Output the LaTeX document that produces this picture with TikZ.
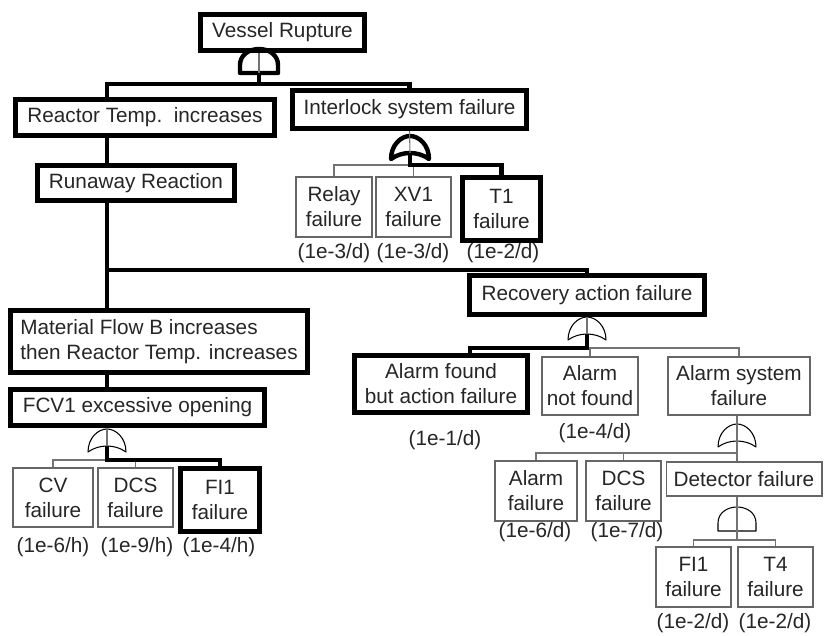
\documentclass[tikz,border=0pt]{standalone}
\usepackage{fontspec}
\setmainfont{Liberation Sans}
\usepackage{xcolor}
\newcommand{\ftafont}{\fontsize{11.8}{14.2}\selectfont}
\tikzset{
  evbox/.style={draw=black, line width=2.8pt, fill=white, inner sep=0pt, align=center, text=black!85, font=\ftafont},
  basebox/.style={draw=black!60, line width=0.6pt, fill=white, inner sep=0pt, align=center, text=black!85, font=\ftafont},
  rate/.style={inner sep=0pt, text=black!85, font=\ftafont},
  crit/.style={line width=2.5pt, black},
  thinline/.style={line width=0.6pt, black!55},
  andgate/.pic={
    \draw[line join=round] (-19,24) -- (-19,16) .. controls (-19,6) and (-10,0) .. (0,0)
      .. controls (10,0) and (19,6) .. (19,16) -- (19,24) -- cycle;
    \coordinate (-in) at (0,0);
    \coordinate (-out) at (0,24);
  },
  orgate/.pic={
    \draw[line join=round] (-19,23) .. controls (-19,9) and (-9,0) .. (0,0)
      .. controls (9,0) and (19,9) .. (19,23)
      .. controls (8,15) and (-8,15) .. (-19,23) -- cycle;
    \coordinate (-in) at (0,0);
    \coordinate (-out) at (0,17);
  }
}
\begin{document}
\begin{tikzpicture}[x=0.02cm,y=-0.02cm]
\useasboundingbox (0,0) rectangle (824,635);
\coordinate (spine) at (107,0);

% events on the left branch
\node[evbox, minimum width=3.28cm, minimum height=0.72cm] (top) at (282.5,32.5) {Vessel Rupture};
\node[evbox, minimum width=5.18cm, minimum height=0.72cm] (rti) at (145,117.5) {Reactor Temp.\ \ increases};
\node[evbox, minimum width=3.94cm, minimum height=0.70cm] (rr) at (136,183) {Runaway Reaction};
\node[evbox, minimum width=5.94cm, minimum height=1.24cm, align=left] (mfb) at (159,341.5) {Material Flow B increases\\then Reactor Temp. increases};
\node[evbox, minimum width=5.08cm, minimum height=0.72cm] (fcv) at (137.5,407.5) {FCV1 excessive opening};
\node[basebox, minimum width=1.60cm, minimum height=1.18cm] (cv) at (53,497.5) {CV\\failure};
\node[basebox, minimum width=1.50cm, minimum height=1.18cm] (dcsa) at (135.5,497.5) {DCS\\failure};
\node[evbox, minimum width=1.58cm, minimum height=1.26cm] (fia) at (220,500) {FI1\\failure};

% interlock
\node[evbox, minimum width=4.68cm, minimum height=0.76cm] (isf) at (409.5,109.5) {Interlock system failure};
\node[basebox, minimum width=1.52cm, minimum height=1.20cm] (relay) at (334,207) {Relay\\failure};
\node[basebox, minimum width=1.50cm, minimum height=1.20cm] (xv) at (413.5,207) {XV1\\failure};
\node[evbox, minimum width=1.56cm, minimum height=1.26cm] (tone) at (501.5,209) {T1\\failure};

% recovery
\node[evbox, minimum width=4.70cm, minimum height=0.78cm] (raf) at (587,295) {Recovery action failure};
\node[evbox, minimum width=3.46cm, minimum height=1.14cm] (afb) at (441,384) {Alarm found\\but action failure};
\node[basebox, minimum width=1.92cm, minimum height=1.16cm] (anf) at (590,386) {Alarm\\not found};
\node[basebox, minimum width=2.84cm, minimum height=1.16cm] (asf) at (739,386) {Alarm system\\failure};
\node[basebox, minimum width=1.64cm, minimum height=1.20cm] (alf) at (536,491) {Alarm\\failure};
\node[basebox, minimum width=1.50cm, minimum height=1.20cm] (dcsb) at (623.5,491) {DCS\\failure};
\node[basebox, minimum width=3.12cm, minimum height=0.68cm] (det) at (744,479) {Detector failure};
\node[basebox, minimum width=1.50cm, minimum height=1.20cm] (fib) at (693.5,577) {FI1\\failure};
\node[basebox, minimum width=1.50cm, minimum height=1.20cm] (tfour) at (775.5,577) {T4\\failure};

% failure rates
\node[rate] (rrelay) at (334,253) {(1e-3/d)};
\node[rate] (rxv) at (413,253) {(1e-3/d)};
\node[rate] (rtone) at (503,253) {(1e-2/d)};
\node[rate] (rcv) at (53,547) {(1e-6/h)};
\node[rate] (rdcsa) at (137,547) {(1e-9/h)};
\node[rate] (rfia) at (219,547) {(1e-4/h)};
\node[rate] (rafb) at (445,440) {(1e-1/d)};
\node[rate] (ranf) at (595,433) {(1e-4/d)};
\node[rate] (ralf) at (535,532) {(1e-6/d)};
\node[rate] (rdcsb) at (627,532) {(1e-7/d)};
\node[rate] (rfib) at (693,623) {(1e-2/d)};
\node[rate] (rtfour) at (775,623) {(1e-2/d)};

% gates
\pic[crit] (ga) at (259,49) {andgate};
\pic[crit] (gb) at (410,136) {orgate};
\pic[thinline, black] (gc) at (107,429) {orgate};
\pic[thinline, black] (gd) at (587,317) {orgate};
\pic[thinline, black] (ge) at (737,424) {orgate};
\pic[thinline, black] (gf) at (737,507) {andgate};

% top event
\draw[thinline] (ga-in |- top.south) -- (ga-out);
\coordinate (ba) at (259,84);
\draw[crit] (ga-out) -- (ba);
\draw[crit] (ba) -| (spine |- rti.north);
\draw[crit] (ba) -| (isf.north);

% left spine
\draw[crit] (spine |- rti.south) -- (spine |- rr.north);
\draw[crit] (spine |- rr.south) -- (spine |- mfb.north);
\coordinate (bb) at (107,270);
\draw[crit] (bb) -| (raf.north);
\draw[crit] (spine |- mfb.south) -- (spine |- fcv.north);

% interlock
\draw[thinline] (isf.south) -- (gb-out);
\coordinate (bc) at (410,165);
\draw[thinline] (bc) -| (relay.north);
\draw[thinline] (bc) -| (xv.north);
\draw[crit] (gb-out) -- (bc) -| (tone.north);

% fcv1
\draw[thinline] (spine |- fcv.south) -- (gc-out);
\coordinate (bd) at (107,460);
\draw[thinline] (bd) -| (cv.north);
\draw[thinline] (bd) -| (dcsa.north);
\draw[crit] (gc-out) -- (bd) -| (fia.north);

% recovery
\draw[thinline] (raf.south) -- (gd-out);
\coordinate (be) at (587,348);
\draw[thinline] (be) -| (anf.north);
\draw[thinline] (be) -| (asf.north);
\draw[crit] (gd-out) -- (be) -| ([xshift=0.58cm]afb.north);

% alarm system
\draw[thinline] (ge-in |- asf.south) -- (ge-out);
\coordinate (bf) at (737,453);
\draw[thinline] (bf) -| (alf.north);
\draw[thinline] (bf) -| (dcsb.north);
\draw[thinline] (ge-out) -- (bf) -- (bf |- det.north);

% detector
\draw[thinline] (gf-in |- det.south) -- (gf-out);
\coordinate (bg) at (737,540);
\draw[thinline] (gf-out) -- (bg);
\draw[thinline] (bg) -| (fib.north);
\draw[thinline] (bg) -| (tfour.north);
\end{tikzpicture}
\end{document}
